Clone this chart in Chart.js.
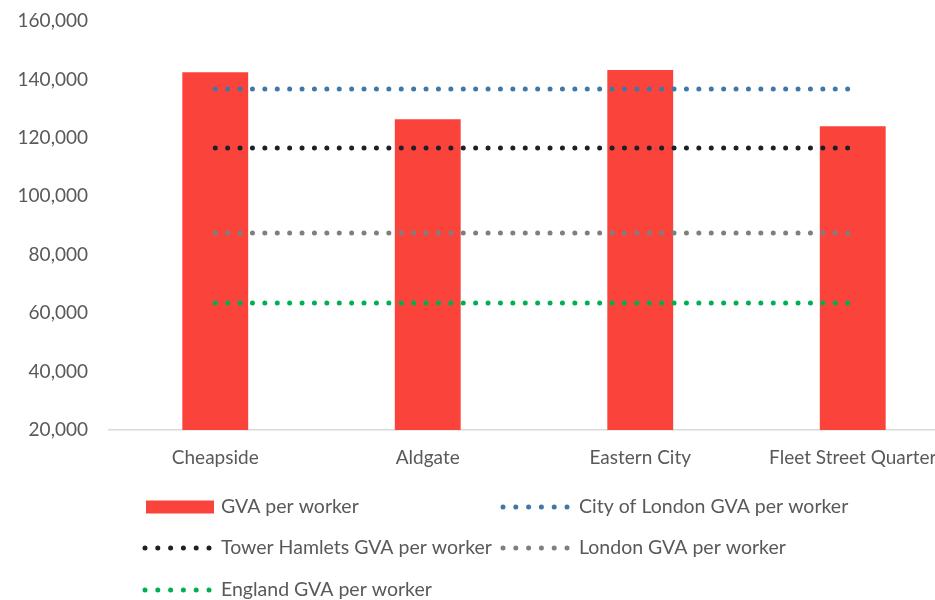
<!DOCTYPE html>
<html>
<head>
<meta charset="utf-8">
<title>GVA per worker</title>
<script src="https://cdn.jsdelivr.net/npm/chart.js@4/dist/chart.umd.min.js"></script>
<style>
  html, body { margin: 0; padding: 0; background: #fff; overflow: hidden; }
  #wrap { width: 960px; height: 600px; }
</style>
</head>
<body>
<div id="wrap"><canvas id="gvaChart" width="960" height="600"></canvas></div>
<script>
// Areas and their GVA per worker (£)
const areas = ['Cheapside', 'Aldgate', 'Eastern City', 'Fleet Street Quarter'];
const gvaPerWorker = [142500, 126400, 143200, 124000];

// Benchmarks, flat across every area
const cityOfLondonGva = [136700, 136700, 136700, 136700];
const towerHamletsGva = [116500, 116500, 116500, 116500];
const londonGva = [87400, 87400, 87400, 87400];
const englandGva = [63500, 63500, 63500, 63500];

const yMin = 20000;
const yMax = 160000;
const yStep = 20000;

const FONT = 'Lato, "Open Sans", sans-serif';
const TEXT = '#595959';

function dotted(label, data, color) {
    return {
        type: 'line',
        label,
        data,
        borderColor: color,
        backgroundColor: color,
        borderWidth: 5,
        borderCapStyle: 'round',
        borderDash: [0, 12.4],
        pointRadius: 0,
        fill: false,
        order: 1
    };
}

// Two-column legend under the plot, drawn straight onto the canvas
const gridLegend = {
    id: 'gridLegend',
    afterDraw(chart) {
        const ctx = chart.ctx;
        const slots = [[146, 507], [504, 507], [146, 548], [504, 548], [146, 590]];
        ctx.save();
        ctx.font = '19.5px ' + FONT;
        ctx.textBaseline = 'middle';
        chart.data.datasets.forEach((ds, i) => {
            const [x, y] = slots[i];
            if (ds.type === 'line') {
                ctx.fillStyle = ds.borderColor;
                for (let k = 0; k < 6; k++) {
                    ctx.beginPath();
                    ctx.arc(x - 1 + k * 12.8, y, 2.5, 0, Math.PI * 2);
                    ctx.fill();
                }
            } else {
                ctx.fillStyle = ds.backgroundColor;
                ctx.fillRect(x, y - 6.5, 68, 13);
            }
            ctx.fillStyle = TEXT;
            ctx.fillText(ds.label, x + 75, y);
        });
        ctx.restore();
    }
};

new Chart(document.getElementById('gvaChart'), {
    type: 'bar',
    data: {
        labels: areas,
        datasets: [
            {
                type: 'bar',
                label: 'GVA per worker',
                data: gvaPerWorker,
                backgroundColor: '#FA443B',
                categoryPercentage: 1,
                barPercentage: 0.31,
                order: 2
            },
            dotted('City of London GVA per worker', cityOfLondonGva, '#3F78A8'),
            dotted('Tower Hamlets GVA per worker', towerHamletsGva, '#1C2127'),
            dotted('London GVA per worker', londonGva, '#7F7F7F'),
            dotted('England GVA per worker', englandGva, '#00B050')
        ]
    },
    options: {
        responsive: false,
        animation: false,
        devicePixelRatio: 1,
        layout: { padding: { top: 21, right: 1, bottom: 110, left: 0 } },
        plugins: {
            legend: { display: false },
            tooltip: { enabled: false }
        },
        scales: {
            x: {
                grid: { display: false },
                border: { display: true, color: '#D9D9D9', width: 1.5 },
                ticks: { color: TEXT, font: { family: FONT, size: 19 }, padding: 8, maxRotation: 0, autoSkip: false },
                afterFit: s => { s.height = 60; }
            },
            y: {
                min: yMin,
                max: yMax,
                grid: { display: false },
                border: { display: false },
                ticks: {
                    stepSize: yStep,
                    color: TEXT,
                    font: { family: FONT, size: 19 },
                    padding: 13,
                    callback: v => v.toLocaleString('en-GB')
                },
                afterFit: s => {
                    s.width = 109;
                    s.paddingTop = 0;
                    s.paddingBottom = 0;
                }
            }
        }
    },
    plugins: [gridLegend]
});
</script>
</body>
</html>
